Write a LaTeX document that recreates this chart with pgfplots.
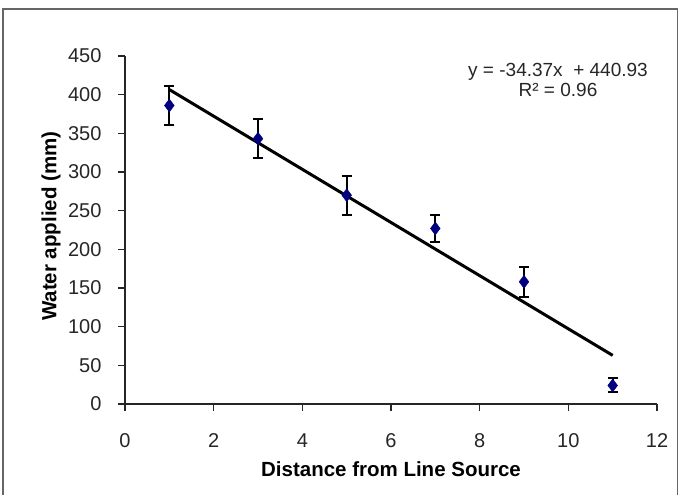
\documentclass[border=0pt]{standalone}
\usepackage{fontspec}
\setmainfont{Liberation Sans}
\usepackage{pgfplots}
\pgfplotsset{compat=1.18}
\definecolor{navy}{HTML}{000080}
\begin{document}
\begin{tikzpicture}
\useasboundingbox (0bp,0bp) rectangle (679bp,495bp);
\draw[black!60, line width=1.2bp] (3bp,-2bp) -- (3bp,486bp) -- (677.5bp,486bp) -- (677.5bp,-2bp);
\begin{axis}[
  at={(125bp,91bp)}, anchor=south west,
  scale only axis, width=532bp, height=348bp,
  xmin=0, xmax=12, ymin=0, ymax=450,
  xtick={0,2,4,6,8,10,12}, ytick={0,50,100,150,200,250,300,350,400,450},
  axis x line*=bottom, axis y line*=left,
  axis line style={line width=1.2bp, black!85, -},
  tick style={line width=1.2bp, black!85},
  tick align=outside, major tick length=7bp,
  ticklabel style={font=\fontsize{20bp}{24bp}\selectfont, text=black!85},
  yticklabel style={xshift=-13bp},
  xticklabel style={yshift=-19bp},
  /pgf/number format/assume math mode=true,
  xlabel={Distance from Line Source}, ylabel={Water applied (mm)},
  every axis x label/.style={at={(axis description cs:0.5,-0.187)}, anchor=center, font=\bfseries\fontsize{20.5bp}{24bp}\selectfont},
  every axis y label/.style={at={(axis description cs:-0.139,0.511)}, anchor=center, rotate=90, font=\bfseries\fontsize{20.5bp}{24bp}\selectfont},
  clip=false,
]
\addplot[black, line width=3bp, no marks] coordinates {(1,406.56) (11,62.86)};
\addplot[navy, only marks, mark=diamond*, mark size=6.5bp, mark options={fill=navy, draw=navy},
  error bars/.cd, y dir=both, y explicit,
  error bar style={black, line width=2bp},
  error mark options={black, rotate=90, mark size=5bp, line width=2bp}]
  coordinates {
  (1,386) +- (0,25)
  (3,343) +- (0,25)
  (5,270) +- (0,25)
  (7,227) +- (0,17)
  (9,158) +- (0,19)
  (11,24) +- (0,9)
  };
\node[align=center, font=\fontsize{19bp}{20bp}\selectfont, text=black!85] at (axis cs:9.767,419) {y = -34.37x\ \ + 440.93\\R² = 0.96};
\end{axis}
\end{tikzpicture}
\end{document}
